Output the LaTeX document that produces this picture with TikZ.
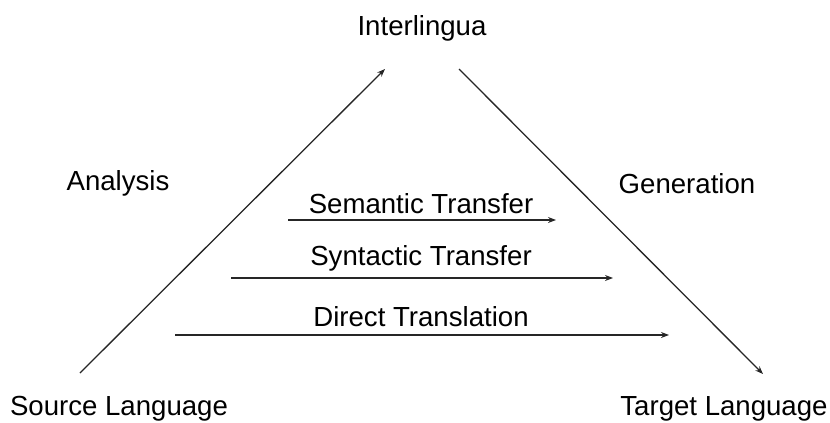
\documentclass[tikz,border=0pt]{standalone}
\usepackage{fontspec}
\setmainfont{Liberation Sans}
\usetikzlibrary{arrows.meta}
\begin{document}
\begin{tikzpicture}[x=1pt,y=-1pt,
  lbl/.style={inner sep=0pt,font=\fontsize{27.6}{32}\selectfont},
  conn/.style={line width=1.3pt,draw=black!85,-{Stealth[length=8pt,width=6pt]}}]
\useasboundingbox (0,0) rectangle (830,423);
\node[lbl] (inter) at (422,28) {Interlingua};
\node[lbl] (anal) at (118,183) {Analysis};
\node[lbl] (gen) at (687,184) {Generation};
\node[lbl] (sem) at (421,204) {Semantic Transfer};
\node[lbl] (syn) at (421,258) {Syntactic Transfer};
\node[lbl] (dir) at (421,317) {Direct Translation};
\node[lbl] (src) at (119,409) {Source Language};
\node[lbl] (tgt) at (724,409) {Target Language};
\coordinate (l0) at (80,373);
\coordinate (l1) at (385,69);
\coordinate (r0) at (459,69);
\coordinate (r1) at (763,374);
\coordinate (s0) at (288,220);
\coordinate (s1) at (556,220);
\coordinate (y0) at (231,278);
\coordinate (y1) at (613,278);
\coordinate (d0) at (175,335);
\coordinate (d1) at (669,335);
\draw[conn] (l0) -- (l1);
\draw[conn] (r0) -- (r1);
\draw[conn] (s0) -- (s1);
\draw[conn] (y0) -- (y1);
\draw[conn] (d0) -- (d1);
\end{tikzpicture}
\end{document}
